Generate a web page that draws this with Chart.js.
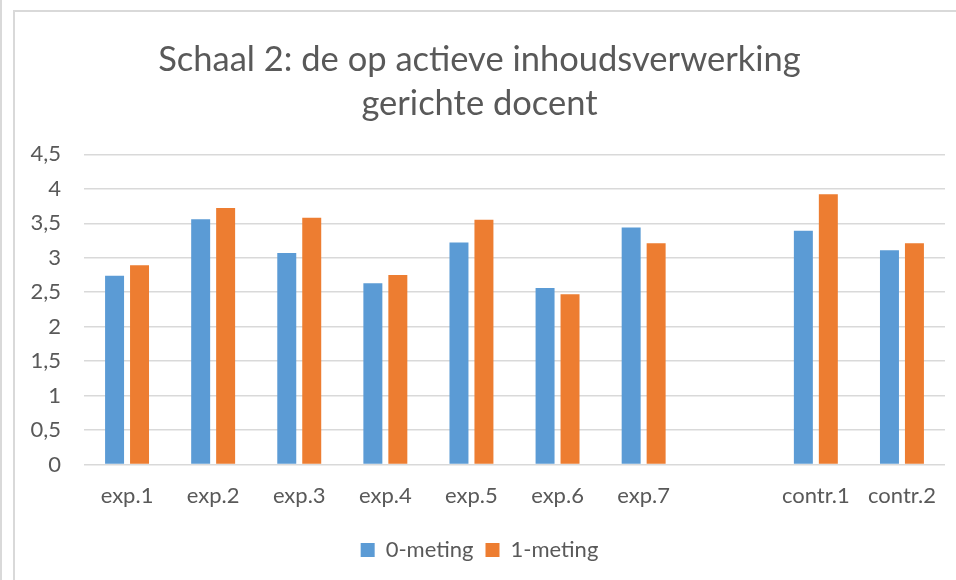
<!DOCTYPE html>
<html>
<head>
<meta charset="utf-8">
<script src="https://cdn.jsdelivr.net/npm/chart.js@4.4.1/dist/chart.umd.min.js"></script>
<style>
  html, body { margin: 0; padding: 0; background: #fff; }
  #wrap { position: relative; width: 956px; height: 580px; overflow: hidden; }
  .line-left { position: absolute; left: 0; top: 0; width: 2px; height: 580px; background: #d9d9d9; }
  .frame { position: absolute; left: 13px; top: 10px; width: 943px; height: 570px;
           border-left: 2px solid #d9d9d9; border-top: 2px solid #d9d9d9; box-sizing: border-box; }
  canvas { position: absolute; left: 0; top: 0; }
</style>
</head>
<body>
<div id="wrap">
  <div class="line-left"></div>
  <div class="frame"></div>
  <canvas id="chartSchaal" width="956" height="580"></canvas>
</div>
<script>
// DATA
const categories = ['exp.1', 'exp.2', 'exp.3', 'exp.4', 'exp.5', 'exp.6', 'exp.7', '', 'contr.1', 'contr.2'];
const meting0 = [2.74, 3.56, 3.07, 2.63, 3.22, 2.56, 3.44, null, 3.39, 3.11];
const meting1 = [2.89, 3.72, 3.58, 2.75, 3.55, 2.47, 3.21, null, 3.92, 3.21];
const yTicks = [0, 0.5, 1, 1.5, 2, 2.5, 3, 3.5, 4, 4.5];

const textColor = '#595959';
const gridColor = '#d9d9d9';
const fontFamily = 'Lato, "Open Sans", sans-serif';

const ctx = document.getElementById('chartSchaal').getContext('2d');
const chart = new Chart(ctx, {
    type: 'bar',
    data: {
        labels: categories,
        datasets: [{
            label: '0-meting',
            data: meting0,
            backgroundColor: '#5B9BD5',
            categoryPercentage: 0.58,
            barPercentage: 0.76
        }, {
            label: '1-meting',
            data: meting1,
            backgroundColor: '#ED7D31',
            categoryPercentage: 0.58,
            barPercentage: 0.76
        }]
    },
    options: {
        responsive: false,
        animation: false,
        layout: {
            padding: { left: 14, right: 11, top: 38, bottom: 9 }
        },
        plugins: {
            title: {
                display: true,
                text: ['Schaal 2: de op actieve inhoudsverwerking', 'gerichte docent'],
                color: textColor,
                font: { family: fontFamily, size: 34.5, weight: 'normal', lineHeight: 1.28 },
                padding: { top: 0, bottom: 28 }
            },
            legend: {
                position: 'bottom',
                labels: {
                    color: textColor,
                    font: { family: fontFamily, size: 22 },
                    boxWidth: 14,
                    boxHeight: 14,
                    padding: 12
                }
            },
            tooltip: { enabled: false }
        },
        scales: {
            x: {
                grid: { display: false, drawTicks: false },
                border: { display: false },
                ticks: {
                    color: textColor,
                    font: { family: fontFamily, size: 22 },
                    padding: 18,
                    maxRotation: 0,
                    autoSkip: false
                }
            },
            y: {
                min: 0,
                max: 4.5,
                afterBuildTicks: function(scale) {
                    scale.ticks = yTicks.map(v => ({ value: v }));
                },
                afterFit: function(scale) {
                    scale.width = 70;
                },
                grid: { color: gridColor, lineWidth: 1.5, drawTicks: false },
                border: { display: false },
                ticks: {
                    color: textColor,
                    font: { family: fontFamily, size: 22 },
                    padding: 23,
                    callback: v => String(v).replace('.', ',')
                }
            }
        }
    }
});
</script>
</body>
</html>
